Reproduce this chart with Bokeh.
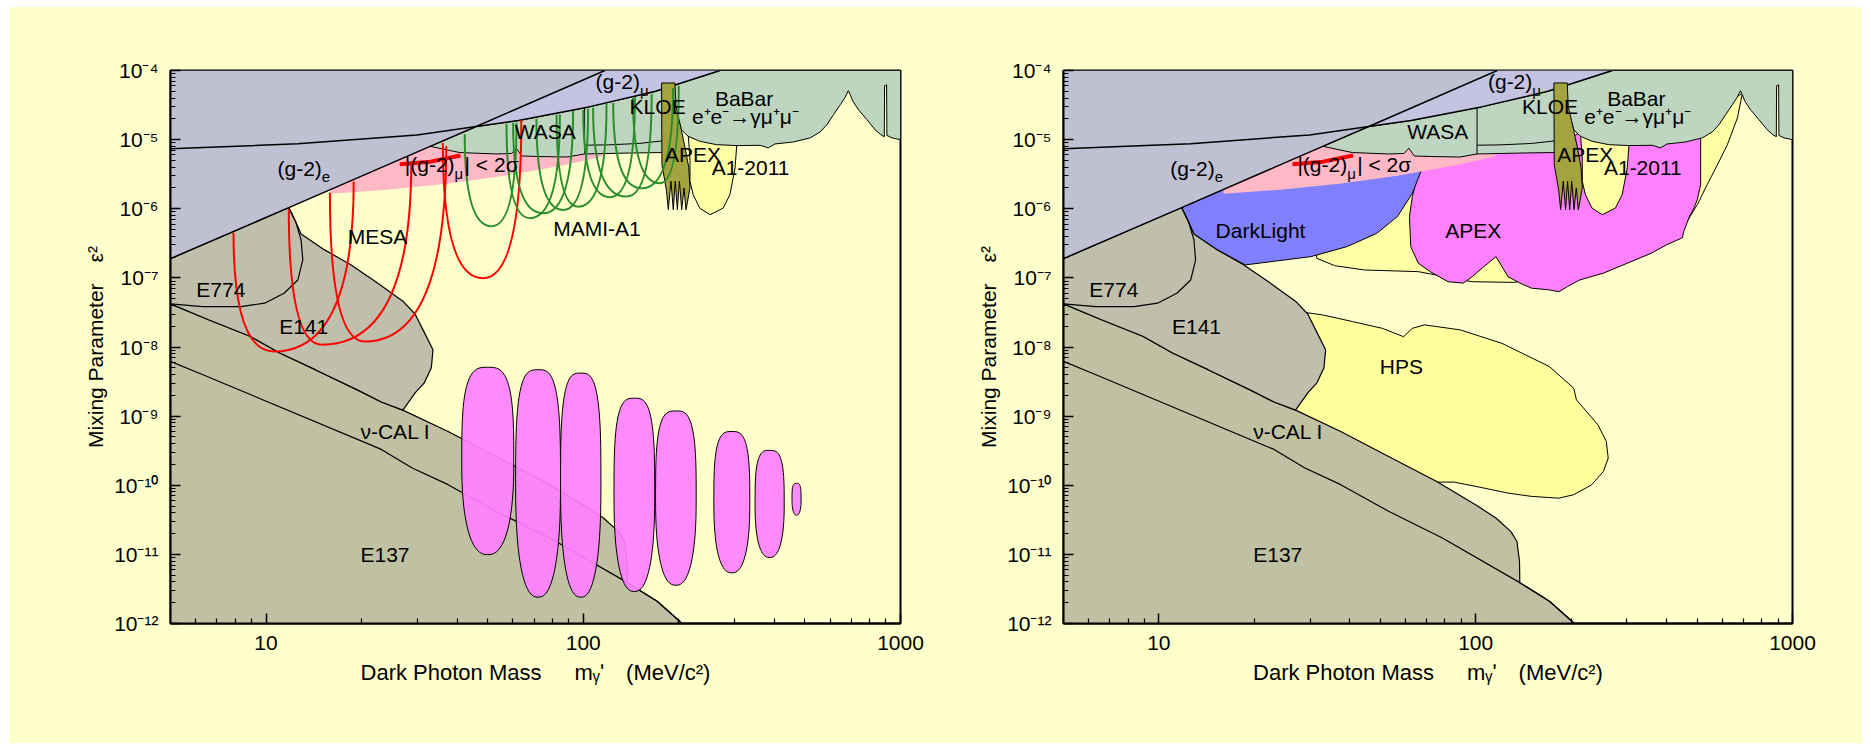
import numpy as np
from bokeh.plotting import figure
from bokeh.layouts import row
from bokeh.models import FixedTicker, CustomJSTickFormatter, Range1d
from bokeh.core.properties import value
from bokeh.embed import file_html
from bokeh.resources import INLINE

FONT = "Liberation Sans"
BG = "#FFFFCC"

# ---------------- axes ----------------
X_TICKS = [10, 100, 1000]
X_TICK_LABELS = ["10", "100", "1000"]
Y_TICKS = [1e-12, 1e-11, 1e-10, 1e-9, 1e-8, 1e-7, 1e-6, 1e-5, 1e-4]
Y_TICK_LABELS = ["10⁻¹²", "10⁻¹¹", "10⁻¹⁰", "10⁻⁹", "10⁻⁸", "10⁻⁷", "10⁻⁶", "10⁻⁵", "10⁻⁴"]
X_LABEL = "Dark Photon Mass\u2003\u2002mᵧʹ\u2002\u2002(MeV/c²)"
Y_LABEL = "Mixing Parameter\u2003ε²"

# ---------------- boundaries (mass MeV, eps^2) ----------------
LINE_A_M = [5, 11.8, 32.9, 46, 117]
LINE_A_EPS = [1.9e-7, 1.04e-6, 8.0e-6, 1.55e-5, 1e-4]
LINE_B_M = [5, 12.6, 29.9, 46, 62.5, 105, 169, 270]
LINE_B_EPS = [7.36e-6, 8.7e-6, 1.17e-5, 1.55e-5, 1.89e-5, 3.0e-5, 5.0e-5, 1e-4]

GREEN_M = [32.9, 46, 62.5, 105, 169, 270, 1000, 1000, 940, 906, 904, 891, 889, 867,
           832, 783, 737, 708, 694, 685, 669, 646, 615, 586, 558, 519,
           460, 402, 383, 361, 305, 263, 233, 214, 204, 199, 190, 178,
           140, 101, 89, 72, 64, 61.5, 59.4, 53, 40.8]
GREEN_EPS = [8.0e-6, 1.55e-5, 1.89e-5, 3.0e-5, 5.0e-5, 1e-4, 1e-4, 1.0e-5, 1.06e-5, 1.15e-5, 6.2e-5, 6.0e-5, 1.1e-5, 1.18e-5,
             1.39e-5, 1.95e-5, 2.71e-5, 3.58e-5, 4.47e-5, 5.1e-5, 4.1e-5, 3.2e-5, 2.3e-5, 1.64e-5, 1.29e-5, 1.06e-5,
             9.25e-6, 8.65e-6, 7.6e-6, 8.28e-6, 8.2e-6, 8.46e-6, 9.46e-6, 1.12e-5, 1.39e-5, 2.06e-5, 6.5e-6, 6.5e-6,
             6.4e-6, 6.2e-6, 5.6e-6, 5.7e-6, 5.8e-6, 7.5e-6, 6.3e-6, 6.2e-6, 6.5e-6]
KLOE_LINE_M = [101, 120, 150, 178]
KLOE_LINE_EPS = [8.3e-6, 8.4e-6, 8.8e-6, 9.6e-6]
WASA_DIV_M = [101, 101]
WASA_DIV_EPS = [2.9e-5, 6.2e-6]

APEX_BAND_M = [176.6, 194.5, 196, 203, 209, 215, 217, 212, 210.7, 207.8, 204.3, 201, 198, 195,
               192.2, 189, 185.4, 183, 180, 177]
APEX_BAND_EPS = [6.6e-5, 6.6e-5, 3e-5, 1.5e-5, 8e-6, 4e-6, 2e-6, 1.1e-6, 9.7e-7, 2.0e-6, 9.7e-7, 2.5e-6, 9.7e-7, 2.5e-6,
                 9.7e-7, 2.5e-6, 9.7e-7, 1.8e-6, 2.8e-6, 4.4e-6]
A1_M = [214, 217, 217, 222, 233, 251, 276, 290, 301, 305, 263, 233]
A1_EPS = [1.3e-5, 5e-6, 2.5e-6, 1.6e-6, 1.02e-6, 8.2e-7, 1.02e-6, 1.6e-6, 3.9e-6, 9e-6, 9.3e-6, 1.05e-5]

PINK_M = [16, 24.1, 37.2, 57.3, 88.3, 114.6, 118, 118, 33, 16]
PINK_EPS = [1.65e-6, 1.88e-6, 2.3e-6, 3.03e-6, 4.33e-6, 5.7e-6, 6.5e-6, 9e-6, 9e-6, 1.92e-6]
RED_M = [26.4, 33, 41]
RED_EPS = [4.4e-6, 4.8e-6, 5.9e-6]

E141_M = [5, 11.8, 12.4, 12.9, 15.3, 18.5, 22, 27, 29.5, 31.6, 33.6, 33.2, 31.5, 29.6, 27.0,
          23.1, 19.4, 14.3, 11.05, 8.9, 6.56, 5]
E141_EPS = [1.9e-7, 1.04e-6, 6.5e-7, 4.3e-7, 2.54e-7, 1.55e-7, 9e-8, 4.6e-8, 3e-8, 1.6e-8, 9.1e-9, 5e-9, 3e-9, 2.2e-9, 1.22e-9,
            1.6e-9, 2.4e-9, 4.7e-9, 8.2e-9, 1.43e-8, 2.5e-8, 4.2e-8]
NUCAL_M = [5, 6.56, 8.9, 11.05, 14.3, 19.4, 23.1, 27.0, 37.5, 53.1, 75.1, 101.7, 115.8, 129, 134.9, 137.5, 137.8]
NUCAL_EPS = [4.2e-8, 2.5e-8, 1.43e-8, 8.2e-9, 4.7e-9, 2.4e-9, 1.6e-9, 1.22e-9, 6.0e-10, 2.6e-10, 1.14e-10, 4.95e-11,
             3.36e-11, 2.15e-11, 1.55e-11, 8e-12, 3.9e-12]
E137_M = [5, 6.3, 23.1, 28.9, 37.5, 53.1, 78.5, 137.8, 171, 205]
E137_EPS = [6.2e-9, 4.0e-9, 3.3e-10, 1.78e-10, 1.02e-10, 4.2e-11, 1.73e-11, 3.9e-12, 2.1e-12, 1e-12]
E774_M = [11.8, 12.4, 12.9, 13.06, 12.6, 11.4, 9.9, 8.35, 6.31, 5]
E774_EPS = [1.04e-6, 6.5e-7, 3.54e-7, 1.82e-7, 9.3e-8, 6.0e-8, 4.3e-8, 3.84e-8, 3.84e-8, 4.2e-8]

# left panel: MESA (red) and MAMI-A1 (green) reach curves
MESA_L_M = [7.9, 11.8, 15.9, 36.1]
MESA_L_EPS = [4.5e-7, 9.8e-7, 1.7e-6, 8.9e-6]
MESA_MIN_M = [10.6, 15.0, 20.5, 48.3]
MESA_MIN_EPS = [8.6e-9, 1.08e-8, 1.2e-8, 9.9e-8]
MESA_R_M = [18.9, 28.7, 37.0, 63.8]
MESA_R_EPS = [2.47e-6, 4.55e-6, 8.0e-6, 1.92e-5]

MAMI_L_M = [42.3, 57.3, 60.1, 71.2, 82.4, 100, 107.4, 124.3, 143.5]
MAMI_L_EPS = [1.2e-5, 1.7e-5, 1.75e-5, 2.0e-5, 2.3e-5, 2.7e-5, 2.9e-5, 3.4e-5, 4.0e-5]
MAMI_MIN_M = [51.4, 67.9, 74.7, 86.4, 96.4, 121.3, 137, 152.8, 174.4]
MAMI_MIN_EPS = [5.6e-7, 7.3e-7, 8.6e-7, 9.6e-7, 1.07e-6, 1.47e-6, 1.5e-6, 1.98e-6, 2.34e-6]
MAMI_R_M = [61.6, 84.4, 92.9, 103.6, 118.4, 145.5, 164.3, 192, 200]
MAMI_R_EPS = [1.75e-5, 2.3e-5, 2.6e-5, 2.8e-5, 3.3e-5, 4.1e-5, 4.6e-5, 5.6e-5, 6.0e-5]

# left panel: magenta reach islands (mass range, eps^2 range)
BLOB_M_LO = [41.4, 61.2, 84.8, 125, 169, 258, 348, 455]
BLOB_M_HI = [60.4, 84.8, 113.7, 168, 227, 335, 430, 486]
BLOB_TOP = [5.1e-9, 4.7e-9, 4.2e-9, 1.82e-9, 1.19e-9, 6.0e-10, 3.2e-10, 1.07e-10]
BLOB_BOT = [9.9e-12, 2.4e-12, 2.4e-12, 2.9e-12, 3.57e-12, 5.4e-12, 9.0e-12, 3.7e-11]

# right panel: future experiments
DL_M = [11.8, 16, 24.1, 37.2, 57.3, 67.4, 63.1, 56.6, 48.7, 39.2, 30.2, 18.75, 15.3, 12.9, 12.4]
DL_EPS = [1.04e-6, 1.92e-6, 2.1e-6, 2.6e-6, 3.4e-6, 3.6e-6, 1.67e-6, 7.7e-7, 4.4e-7, 2.83e-7, 2.03e-7, 1.54e-7,
          2.54e-7, 4.3e-7, 6.5e-7]
MAG_M = [65.9, 66, 100, 180, 214, 300, 513, 513, 501, 489, 471, 454, 449, 400, 358, 301, 253, 212.6,
         195, 183, 171, 150, 138, 126.5, 121, 115.9, 106.3, 97.5, 91.3, 81.8, 71.9, 65.9, 62.4, 61.8, 63.1]
MAG_EPS = [3.44e-6, 4e-6, 6.5e-6, 7.5e-6, 1.3e-5, 1.0e-5, 1.2e-5, 2.24e-6, 1.37e-6, 1.03e-6, 7.4e-7, 4.7e-7,
           3.8e-7, 3.0e-7, 2.27e-7, 1.63e-7, 1.17e-7, 9.3e-8, 7.5e-8, 6.3e-8, 6.7e-8, 7.1e-8, 8.4e-8, 1.04e-7,
           1.46e-7, 2.03e-7, 1.46e-7, 1.04e-7, 8.4e-8, 8.8e-8, 1.23e-7, 1.63e-7, 2.83e-7, 7.7e-7, 1.5e-6]
Y1_M = [31.5, 35.9, 44.6, 65.9, 97.5, 132, 160, 300, 420, 465, 501, 538, 579, 623, 670, 695, 600, 300, 60, 30]
Y1_EPS = [1.92e-7, 1.5e-7, 1.3e-7, 1.23e-7, 8.8e-8, 8.6e-8, 1.0e-7, 2.5e-7, 4.5e-7, 6.6e-7, 1.15e-6, 2.24e-6,
          4.3e-6, 8.45e-6, 2.06e-5, 4.7e-5, 3.0e-5, 2.0e-5, 8e-6, 3e-6]
HPS_M = [27.7, 32.9, 40.9, 50.8, 59.2, 63.1, 68.9, 89.3, 121, 171, 204, 208, 243, 258.5, 262, 253, 232, 204,
         183, 150, 126.5, 106.3, 85.5, 75, 40, 22, 24]
HPS_EPS = [3.25e-8, 2.91e-8, 2.33e-8, 1.86e-8, 1.41e-8, 1.86e-8, 2.09e-8, 1.77e-8, 1.13e-8, 5.2e-9, 2.53e-9,
           1.72e-9, 7.5e-10, 4.3e-10, 2.46e-10, 1.58e-10, 1.01e-10, 7.3e-11, 6.5e-11, 6.9e-11, 7.7e-11, 9.1e-11,
           1.11e-10, 1.11e-10, 4e-10, 2e-9, 3e-8]

# ---------------- labels ----------------
COMMON_LABELS = ["WASA", "KLOE", "BaBar", "e⁺e⁻→γμ⁺μ⁻", "APEX", "A1-2011", "E774", "E141", "ν-CAL I", "E137"]
COMMON_LABEL_M = [60.8, 140, 260, 220, 180.9, 254, 6.03, 11.0, 19.85, 19.85]
COMMON_LABEL_EPS = [1.3e-5, 3.03e-5, 4.0e-5, 2.17e-5, 6.05e-6, 3.98e-6, 6.7e-8, 1.97e-8, 5.98e-10, 9.9e-12]
LEFT_LABELS = ["MESA", "MAMI-A1"]
LEFT_LABEL_M = [18.1, 80.4]
LEFT_LABEL_EPS = [3.95e-7, 5.2e-7]
RIGHT_LABELS = ["DarkLight", "APEX", "HPS"]
RIGHT_LABEL_M = [15.1, 80.2, 49.8]
RIGHT_LABEL_EPS = [4.9e-7, 4.9e-7, 5.2e-9]
SUB_MAIN = ["(g-2)", "(g-2)", "|(g-2)"]
SUB_TEXT = ["e", "μ", "μ"]
SUB_M = [15.0, 150.9, 39.3]
SUB_EPS = [3.85e-6, 6.98e-5, 4.3e-6]
TAIL_TEXT = ["| < 2σ"]
TAIL_M = [39.3]
TAIL_EPS = [4.3e-6]

X_MINOR = [k * 10 ** e for e in (0, 1, 2) for k in range(2, 10) if 5 < k * 10 ** e < 1000]
Y_MINOR = [k * 10.0 ** e for e in range(-12, -4) for k in range(2, 10)]

LOOKUP = """
let best = 0, bd = Infinity;
for (let i = 0; i < tk.length; i++) {
  const d = Math.abs(Math.log10(tick) - Math.log10(tk[i]));
  if (d < bd) { bd = d; best = i; }
}
return lb[best];
"""

LABEL_SIZE = "21px"


def blob_outline(mlo, mhi, top, bot, n=72):
    xl, xh = np.log10(mlo), np.log10(mhi)
    yt, yb = np.log10(top), np.log10(bot)
    cx, hw = (xl + xh) / 2, (xh - xl) / 2
    cy, hh = (yt + yb) / 2, (yt - yb) / 2
    t = np.linspace(0, 2 * np.pi, n, endpoint=False)
    c, s = np.cos(t), np.sin(t)
    ex = np.where(s >= 0, 2 / 3.2, 2 / 2.4)
    u = np.sign(c) * np.abs(c) ** ex
    v = np.sign(s) * np.abs(s) ** ex
    return list(10 ** (cx + u * hw)), list(10 ** (cy + v * hh))


def base_fig(width, bl, br):
    p = figure(width=width, height=736, x_axis_type="log", y_axis_type="log",
               x_range=Range1d(5, 1000), y_range=Range1d(1e-12, 1e-4),
               output_backend="svg", toolbar_location=None,
               min_border_left=bl, min_border_right=br, min_border_top=63, min_border_bottom=120)
    p.background_fill_color = BG
    p.border_fill_color = BG
    p.outline_line_color = "black"
    p.outline_line_width = 2
    p.grid.visible = False
    p.xaxis.ticker = FixedTicker(ticks=X_TICKS, minor_ticks=X_MINOR)
    p.yaxis.ticker = FixedTicker(ticks=Y_TICKS, minor_ticks=Y_MINOR)
    p.xaxis.formatter = CustomJSTickFormatter(args=dict(tk=X_TICKS, lb=X_TICK_LABELS), code=LOOKUP)
    p.yaxis.formatter = CustomJSTickFormatter(args=dict(tk=Y_TICKS, lb=Y_TICK_LABELS), code=LOOKUP)
    p.xaxis.axis_label = X_LABEL
    p.yaxis.axis_label = Y_LABEL
    for ax in (p.xaxis[0], p.yaxis[0]):
        ax.major_tick_in = 10
        ax.major_tick_out = 0
        ax.minor_tick_in = 5
        ax.minor_tick_out = 0
        ax.axis_line_width = 2
        ax.axis_line_color = "black"
        ax.major_tick_line_width = 1.5
        ax.minor_tick_line_width = 1.2
        ax.major_tick_line_color = "black"
        ax.minor_tick_line_color = "black"
        ax.major_label_text_font = FONT
        ax.major_label_text_font_size = "21px"
        ax.major_label_text_color = "black"
        ax.axis_label_text_font = FONT
        ax.axis_label_text_font_style = "normal"
        ax.axis_label_text_color = "black"
    p.xaxis.axis_label_text_font_size = "22px"
    p.yaxis.axis_label_text_font_size = "21px"
    p.xaxis.major_label_standoff = 12
    p.yaxis.major_label_standoff = 12
    p.xaxis.axis_label_standoff = 7
    p.yaxis.axis_label_standoff = 4
    return p


def patch(p, xs, ys, color, lc="black", lw=1.0, alpha=1.0):
    p.patch(xs, ys, fill_color=color, fill_alpha=alpha, line_color=lc, line_width=lw)


def draw_gray(p):
    patch(p, NUCAL_M + E137_M[-2:] + [5], NUCAL_EPS + E137_EPS[-2:] + [1e-12], "#C0C0A2", lw=1.2)
    patch(p, E141_M, E141_EPS, "#BFBFAB", lw=1.2)
    p.line(E137_M, E137_EPS, line_color="black", line_width=1.2)
    p.line(E774_M, E774_EPS, line_color="black", line_width=1.2)


def draw_top(p):
    patch(p, PINK_M, PINK_EPS, "#FFB8C6", lc=None)
    patch(p, GREEN_M, GREEN_EPS, "#BED6C0", lw=1.0)
    p.line(KLOE_LINE_M, KLOE_LINE_EPS, line_color="black", line_width=1.0)
    p.line(WASA_DIV_M, WASA_DIV_EPS, line_color="black", line_width=1.0)
    ge_m = LINE_A_M[:4] + LINE_B_M[4:] + [5]
    ge_e = LINE_A_EPS[:4] + LINE_B_EPS[4:] + [1e-4]
    patch(p, ge_m, ge_e, "#C0C0D3", lc=None)
    gm_m = LINE_B_M[3:] + [LINE_A_M[-1]]
    gm_e = LINE_B_EPS[3:] + [LINE_A_EPS[-1]]
    patch(p, gm_m, gm_e, "#C4C4E2", lc=None)
    p.line(LINE_A_M, LINE_A_EPS, line_color="black", line_width=1.5)
    p.line(LINE_B_M, LINE_B_EPS, line_color="black", line_width=1.5)
    patch(p, APEX_BAND_M, APEX_BAND_EPS, "#A3A33F", lw=1.0)
    p.line(RED_M, RED_EPS, line_color="#FF0000", line_width=4)


def draw_labels(p, extra_text, extra_m, extra_eps):
    txt = COMMON_LABELS + extra_text
    xs = COMMON_LABEL_M + extra_m
    ys = COMMON_LABEL_EPS + extra_eps
    p.text(x=xs, y=ys, text=txt, text_font=value(FONT), text_font_size=LABEL_SIZE,
           text_baseline="middle", text_align="left", text_color="black")
    p.text(x=SUB_M, y=SUB_EPS, text=SUB_MAIN, text_font=value(FONT), text_font_size=LABEL_SIZE,
           text_baseline="middle", text_align="right", text_color="black")
    p.text(x=SUB_M, y=SUB_EPS, text=SUB_TEXT, text_font=value(FONT), text_font_size="15px",
           text_baseline="middle", text_align="left", text_color="black", y_offset=9)
    p.text(x=TAIL_M, y=TAIL_EPS, text=TAIL_TEXT, text_font=value(FONT), text_font_size=LABEL_SIZE,
           text_baseline="middle", text_align="left", text_color="black", x_offset=10)


# ---------------- left panel ----------------
p1 = base_fig(927, 161, 36)
patch(p1, A1_M, A1_EPS, "#FFFFA6", lw=1.0)
draw_gray(p1)
bx, by = [], []
for a, b, t, u in zip(BLOB_M_LO, BLOB_M_HI, BLOB_TOP, BLOB_BOT):
    ox, oy = blob_outline(a, b, t, u)
    bx.append(ox)
    by.append(oy)
p1.patches(bx, by, fill_color="#FF80FF", fill_alpha=0.92, line_color="black", line_width=1.0)
draw_top(p1)
p1.quadratic(x0=MESA_L_M, y0=MESA_L_EPS, x1=MESA_MIN_M, y1=MESA_MIN_EPS, cx=MESA_L_M, cy=MESA_MIN_EPS,
             line_color="#FF0000", line_width=2)
p1.quadratic(x0=MESA_MIN_M, y0=MESA_MIN_EPS, x1=MESA_R_M, y1=MESA_R_EPS, cx=MESA_R_M, cy=MESA_MIN_EPS,
             line_color="#FF0000", line_width=2)
p1.quadratic(x0=MAMI_L_M, y0=MAMI_L_EPS, x1=MAMI_MIN_M, y1=MAMI_MIN_EPS, cx=MAMI_L_M, cy=MAMI_MIN_EPS,
             line_color="#2A8C2A", line_width=2)
p1.quadratic(x0=MAMI_MIN_M, y0=MAMI_MIN_EPS, x1=MAMI_R_M, y1=MAMI_R_EPS, cx=MAMI_R_M, cy=MAMI_MIN_EPS,
             line_color="#2A8C2A", line_width=2)
draw_labels(p1, LEFT_LABELS, LEFT_LABEL_M, LEFT_LABEL_EPS)

# ---------------- right panel ----------------
p2 = base_fig(926, 127, 70)
patch(p2, HPS_M, HPS_EPS, "#FFFF9E", lw=1.0)
patch(p2, Y1_M, Y1_EPS, "#FFFFA6", lw=1.0)
patch(p2, MAG_M, MAG_EPS, "#FF80FF", lw=1.0)
patch(p2, DL_M, DL_EPS, "#8080FF", lw=1.0)
patch(p2, A1_M, A1_EPS, "#FFFFA6", lw=1.0)
draw_gray(p2)
draw_top(p2)
draw_labels(p2, RIGHT_LABELS, RIGHT_LABEL_M, RIGHT_LABEL_EPS)

layout = row(p1, p2, spacing=0, margin=(7, 0, 0, 9), styles={"background-color": BG})
open("out.html", "w").write(file_html(layout, INLINE))
